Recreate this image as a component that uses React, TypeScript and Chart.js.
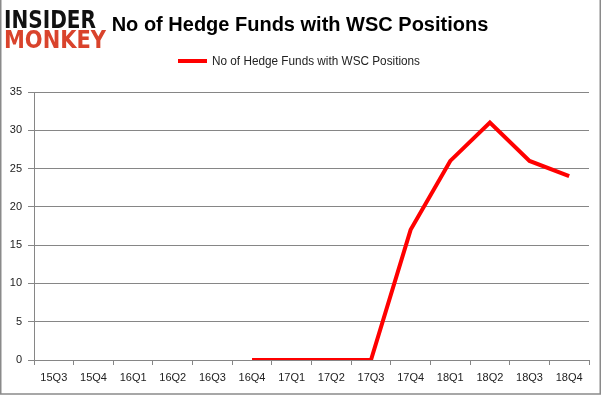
import React, { useEffect, useRef } from "react";
import { Chart, registerables } from "chart.js";

Chart.register(...registerables);

const categories = ["15Q3", "15Q4", "16Q1", "16Q2", "16Q3", "16Q4", "17Q1", "17Q2", "17Q3", "17Q4", "18Q1", "18Q2", "18Q3", "18Q4"];
const hedgeFunds: (number | null)[] = [null, null, null, null, null, 0, 0, 0, 0, 17, 26, 31, 26, 24];
const seriesLabel = "No of Hedge Funds with WSC Positions";
const titleText = "No of Hedge Funds with WSC Positions";
const yMin = 0;
const yMax = 35;
const yStep = 5;

const FONT = "'Liberation Sans', Arial, sans-serif";

const decorPlugin = {
  id: "decor",
  afterDraw(chart: any) {
    const ctx = chart.ctx as CanvasRenderingContext2D;
    ctx.save();
    // border
    ctx.strokeStyle = "#8a8a8a";
    ctx.lineWidth = 1.5;
    ctx.beginPath();
    ctx.moveTo(0.75, 0);
    ctx.lineTo(0.75, 394);
    ctx.lineTo(600.25, 394);
    ctx.lineTo(600.25, 0);
    ctx.stroke();
    // logo
    ctx.textBaseline = "alphabetic";
    ctx.textAlign = "left";
    ctx.font = `bold 25px 'DejaVu Sans', sans-serif`;
    ctx.fillStyle = "#111111";
    ctx.fillText("INSIDER", 4, 28, 92);
    ctx.fillStyle = "#d9432c";
    ctx.fillText("MONKEY", 4, 48, 102);
    // title
    ctx.fillStyle = "#000000";
    ctx.font = `bold 20px ${FONT}`;
    ctx.textAlign = "center";
    ctx.textBaseline = "middle";
    ctx.fillText(titleText, 300, 25, 386);
    // legend
    ctx.strokeStyle = "#ff0000";
    ctx.lineWidth = 4;
    ctx.beginPath();
    ctx.moveTo(178, 61);
    ctx.lineTo(207, 61);
    ctx.stroke();
    ctx.fillStyle = "#222222";
    ctx.font = `12px ${FONT}`;
    ctx.textAlign = "left";
    ctx.fillText(seriesLabel, 212, 61.5, 208);
    ctx.restore();
  },
};

export default function App() {
  const ref = useRef<HTMLCanvasElement | null>(null);
  useEffect(() => {
    if (!ref.current) return;
    const chart = new Chart(ref.current, {
      type: "line",
      data: {
        labels: categories,
        datasets: [
          {
            label: seriesLabel,
            data: hedgeFunds,
            borderColor: "#ff0000",
            backgroundColor: "#ff0000",
            borderWidth: 4,
            pointRadius: 0,
            tension: 0,
            spanGaps: false,
          },
        ],
      },
      options: {
        animation: false,
        responsive: false,
        maintainAspectRatio: false,
        layout: { padding: { left: 0, top: 92, right: 12, bottom: 0 } },
        plugins: {
          legend: { display: false },
          title: { display: false },
          tooltip: { enabled: false },
        },
        scales: {
          x: {
            offset: true,
            grid: {
              offset: true,
              drawOnChartArea: false,
              drawTicks: true,
              tickLength: 5,
              color: "#868686",
            },
            border: { display: true, color: "#868686", width: 1 },
            ticks: {
              color: "#222222",
              font: { family: FONT, size: 11 },
              padding: 6,
              maxRotation: 0,
              autoSkip: false,
            },
            afterFit(scale: any) {
              scale.height = 36;
            },
          },
          y: {
            min: yMin,
            max: yMax,
            grid: { color: "#868686", tickLength: 6 },
            border: { display: true, color: "#868686", width: 1 },
            ticks: {
              stepSize: yStep,
              color: "#222222",
              font: { family: FONT, size: 11 },
              padding: 6,
            },
            afterFit(scale: any) {
              scale.width = 34;
            },
          },
        },
      },
      plugins: [decorPlugin],
    });
    return () => chart.destroy();
  }, []);
  return (
    <div style={{ position: "fixed", left: 0, top: 0, width: 601, height: 396, background: "#fff" }}>
      <canvas ref={ref} width={601} height={396} style={{ width: 601, height: 396 }} />
    </div>
  );
}
